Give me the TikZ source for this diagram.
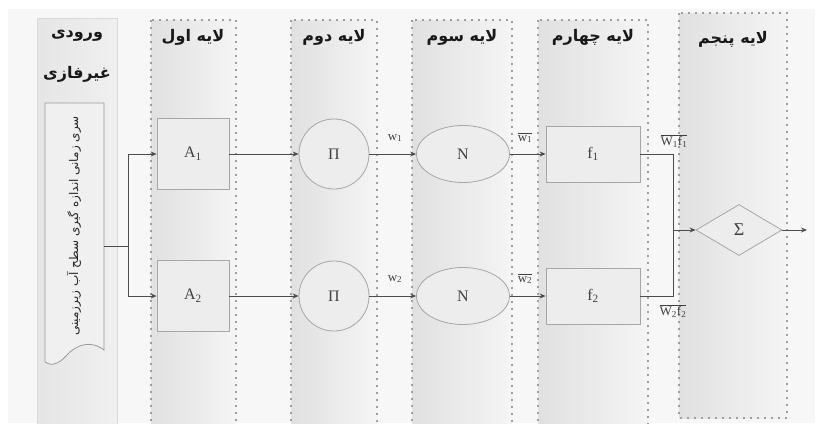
\documentclass[tikz,border=0pt]{standalone}
\usepackage{fontspec}
\setmainfont{Liberation Serif}
\newfontfamily\fa[Script=Arabic]{DejaVu Sans}
\TeXXeTstate=1
\usetikzlibrary{arrows.meta,shapes.geometric}

\newcommand{\ovl}[1]{$\overline{\hbox{#1}}$}

\begin{document}
\begin{tikzpicture}[x=1pt,y=-1pt,
  layerbox/.style={draw=black!38, line width=2pt, dash pattern=on 2pt off 5pt,
    left color=black!12, right color=black!4},
  ttl/.style={font=\fa\bfseries\fontsize{16}{18}\selectfont, text=black!90, inner sep=1pt},
  blk/.style={draw=black!35, line width=0.8pt, fill=black!7,
    font=\fontsize{16}{18}\selectfont, text=black!75},
  lbl/.style={font=\fontsize{13}{15}\selectfont, text=black!75, inner sep=1pt},
  ln/.style={draw=black!70, line width=0.9pt},
  arr/.style={ln, -{Stealth[length=6pt,width=5pt]}}]

\useasboundingbox (0,0) rectangle (821,423);
\clip (0,0) rectangle (821,423);
\fill[white] (0,0) rectangle (821,423);
\fill[black!3] (8,9) rectangle (815,423);

% layer columns
\draw[draw=black!15, line width=0.8pt, left color=black!10, right color=black!6] (37,18) rectangle (117,430);
\draw[layerbox] (151,20) rectangle (236,430);
\draw[layerbox] (291,20) rectangle (377,430);
\draw[layerbox] (412,20) rectangle (512,430);
\draw[layerbox] (538,20) rectangle (648,430);
\draw[layerbox] (679,13) rectangle (787,418);

% column titles
\node[ttl] (t0a) at (77,36) {\beginR ورودی\endR};
\node[ttl] (t0b) at (77,74) {\beginR غیرفازی\endR};
\node[ttl] (t1) at (193,37) {\beginR لایه اول\endR};
\node[ttl] (t2) at (334,37) {\beginR لایه دوم\endR};
\node[ttl] (t3) at (462,37) {\beginR لایه سوم\endR};
\node[ttl] (t4) at (593,37) {\beginR لایه چهارم\endR};
\node[ttl] (t5) at (733,39) {\beginR لایه پنجم\endR};

% input series (document-shaped box)
\node[minimum width=59pt, minimum height=247pt, inner sep=0pt] (src) at (74.5,226.5) {};
\draw[draw=black!40, line width=0.8pt, fill=black!6]
  (45,103) -- (104,103) -- (104,350)
  .. controls (92,340) and (76,344) .. (66,356)
  .. controls (58,365) and (50,366) .. (45,362) -- cycle;
\node[rotate=90, font=\fa\fontsize{12}{14}\selectfont, text=black!85] (srctext) at (74,226)
  {\beginR سری زمانی اندازه گیری سطح آب زیرزمینی\endR};

% layer 1
\node[blk, minimum width=72pt, minimum height=71pt] (a1) at (193,154) {A\textsubscript{1}};
\node[blk, minimum width=72pt, minimum height=71pt] (a2) at (193,296) {A\textsubscript{2}};
% layer 2
\node[blk, circle, minimum size=70pt] (p1) at (334,154) {Π};
\node[blk, circle, minimum size=70pt] (p2) at (334,296) {Π};
% layer 3
\node[blk, ellipse, minimum width=93pt, minimum height=57pt] (n1) at (463,154) {N};
\node[blk, ellipse, minimum width=93pt, minimum height=57pt] (n2) at (463,296) {N};
% layer 4
\node[blk, minimum width=94pt, minimum height=56pt] (f1) at (593,154) {f\textsubscript{1}};
\node[blk, minimum width=94pt, minimum height=56pt] (f2) at (593,296) {f\textsubscript{2}};
% layer 5
\node[blk, diamond, minimum width=86pt, minimum height=51pt, inner sep=0pt, font=\fontsize{18}{20}\selectfont] (sum) at (739,230) {Σ};

% connectors
\coordinate (fork) at (128,246);
\draw[ln] (src.east |- fork) -- (fork);
\draw[arr] (fork) |- (a1.west);
\draw[arr] (fork) |- (a2.west);
\draw[arr] (a1.east) -- (p1.west);
\draw[arr] (a2.east) -- (p2.west);
\draw[arr] (p1.east) -- (n1.west);
\draw[arr] (p2.east) -- (n2.west);
\draw[arr] (n1.east) -- (f1.west);
\draw[arr] (n2.east) -- (f2.west);
\coordinate (join) at (673,230);
\draw[ln] (f1.east) -| (join);
\draw[ln] (f2.east) -| (join);
\draw[arr] (join) -- (sum.west);
\coordinate (out) at (807,230);
\draw[arr] (sum.east) -- (out);

% weights
\node[lbl] (w1) at (395,138) {w\textsubscript{1}};
\node[lbl] (w2) at (395,279) {w\textsubscript{2}};
\node[lbl] (wb1) at (525,138) {\ovl{w\textsubscript{1}}};
\node[lbl] (wb2) at (525,279) {\ovl{w\textsubscript{2}}};
\node[lbl] (wf1) at (674,141) {\ovl{W\textsubscript{1}f\textsubscript{1}}};
\node[lbl] (wf2) at (673,311) {\ovl{W\textsubscript{2}f\textsubscript{2}}};
\end{tikzpicture}
\end{document}
